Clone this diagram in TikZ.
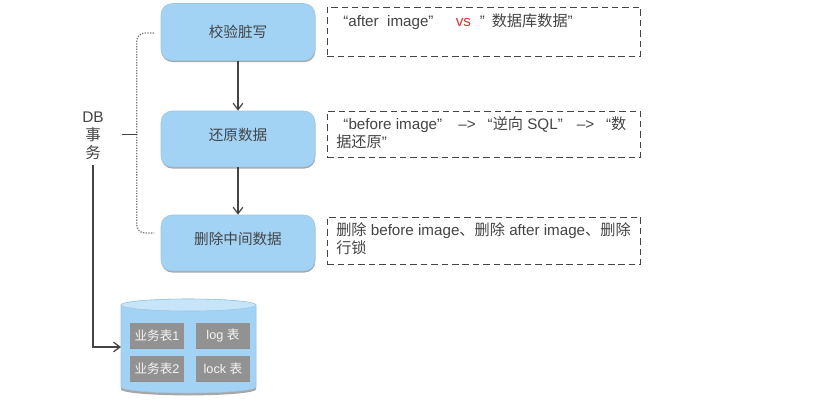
\documentclass[tikz,border=0pt]{standalone}
\usepackage{fontspec}
\setmainfont{Liberation Sans}
\newfontfamily\cjk{Noto Sans CJK SC}
\usetikzlibrary{arrows.meta,shadows}

\definecolor{stepblue}{HTML}{A2D3F5}
\definecolor{toplight}{HTML}{C6E5F9}
\definecolor{tablegray}{HTML}{929292}
\definecolor{inkgray}{HTML}{444444}
\definecolor{versusred}{HTML}{D8343A}

\newcommand{\zh}[1]{{\cjk #1}}
\newcommand{\drumoutline}{(3.025,-7.625) -- (3.025,-9.675)
  arc[start angle=180, end angle=360, x radius=1.6875, y radius=0.15]
  -- (6.40,-7.625)
  arc[start angle=0, end angle=180, x radius=1.6875, y radius=0.15] -- cycle}

\tikzset{
  stepbox/.style={rectangle, rounded corners=0.28cm, fill=stepblue, draw=stepblue!85!gray,
    minimum width=3.85cm, inner sep=0, text=inkgray,
    font=\fontsize{10.4}{12}\selectfont,
    general shadow={fill=black!35, shadow xshift=0.01cm, shadow yshift=-0.04cm}},
  notebox/.style={rectangle, draw=inkgray, dash pattern=on 4.6pt off 2.8pt,
    line width=0.7pt, minimum width=7.84cm, inner sep=0},
  notetext/.style={anchor=west, inner sep=0, align=left, text=inkgray,
    font=\fontsize{10.8}{12.8}\selectfont},
  tablebox/.style={rectangle, fill=tablegray, minimum width=1.35cm, minimum height=0.625cm,
    inner sep=0, text=white!92!gray, font=\fontsize{9}{10}\selectfont,
    general shadow={fill=black!45, shadow xshift=0cm, shadow yshift=-0.035cm}},
  flowline/.style={draw=inkgray, line width=0.9pt, -{Straight Barb[length=1.6mm,width=2.4mm]}},
}

\begin{document}
\begin{tikzpicture}

  % Page: 813 x 403 px at 0.025 cm per px
  \useasboundingbox (0,0) rectangle (20.325,-10.075);

  % Steps
  \node[stepbox, minimum height=1.425cm] (checkdirty) at (5.95,-0.80)  {\raisebox{0.03cm}{\zh{校验脏写}}};
  \node[stepbox, minimum height=1.40cm]  (restoredata) at (5.95,-3.475) {\raisebox{0.25cm}{\zh{还原数据}}};
  \node[stepbox, minimum height=1.40cm]  (deletedata) at (5.95,-6.075) {\raisebox{0.25cm}{\zh{删除中间数据}}};

  \draw[flowline] (checkdirty) -- (restoredata);
  \draw[flowline] (restoredata) -- (deletedata);

  % Notes
  \node[notebox, minimum height=1.225cm] (noteone)   at (12.10,-0.7875) {};
  \node[notebox, minimum height=1.15cm]  (notetwo)   at (12.10,-3.35)   {};
  \node[notebox, minimum height=1.175cm] (notethree) at (12.10,-6.0125) {};

  \node[notetext] (textone) at (8.575,-0.55)
    {“after\ \ image”\hspace{0.555cm}\textcolor{versusred}{vs}\hspace{0.22cm}”\hspace{0.175cm}\zh{数据库数据}”};
  \node[notetext] (texttwo) at (8.40,-3.325)
    {\hspace{0.18cm}“before image”\hspace{0.405cm}–>\hspace{0.3cm}“\zh{逆向} SQL”\hspace{0.35cm}–>\hspace{0.3cm}“\zh{数}\\\zh{据还原}”};
  \node[notetext] (textthree) at (8.40,-5.97)
    {\zh{删除} before image\zh{、删除} after image\zh{、删除}\\\zh{行锁}};

  % Transaction label and brace
  \node[align=center, inner sep=0, text=inkgray, font=\fontsize{11}{12.8}\selectfont]
    (dbtxn) at (2.325,-3.39) {DB\\\zh{事}\\\zh{务}};

  \coordinate (bracetop) at (3.85,-0.825);
  \coordinate (bracebot) at (3.85,-5.825);
  \coordinate (bracetip) at (3.05,-3.35);
  \coordinate (bracemid) at (3.42,-3.35);
  \draw[gray!90!black, densely dotted, line width=0.9pt, rounded corners=0.2cm]
    (bracetop) -| (bracemid) |- (bracebot);
  \draw[inkgray] (bracetip) -- (bracemid);

  % Database
  \fill[black!35, shift={(0,-0.06)}] \drumoutline;
  \draw[stepblue!85!gray, fill=stepblue] \drumoutline;
  \draw[stepblue!85!gray, fill=toplight] (4.7125,-7.625) ellipse[x radius=1.6875, y radius=0.15];
  \coordinate (drumport) at (3.025,-8.675);

  \node[tablebox] (tableone)  at (3.925,-8.3875) {\zh{业务表}1};
  \node[tablebox] (tablelog)  at (5.575,-8.3875) {log \zh{表}};
  \node[tablebox] (tabletwo)  at (3.925,-9.2125) {\zh{业务表}2};
  \node[tablebox] (tablelock) at (5.575,-9.2125) {lock \zh{表}};

  \draw[flowline] ([yshift=-0.12cm]dbtxn.south) |- (drumport);

\end{tikzpicture}
\end{document}
